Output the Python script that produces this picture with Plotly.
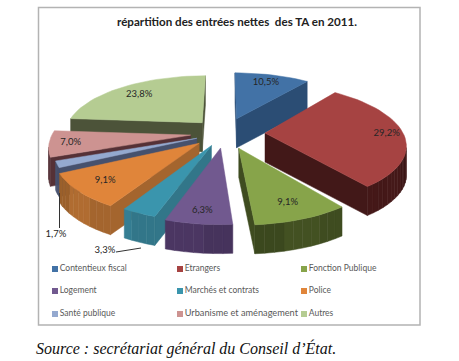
import math
import plotly.graph_objects as go

# ---- data ----
categories = ["Contentieux fiscal", "Etrangers", "Fonction Publique",
              "Logement", "Marchés et contrats", "Police",
              "Santé publique", "Urbanisme et aménagement", "Autres"]
values = [10.5, 29.2, 9.1, 6.3, 3.3, 9.1, 1.7, 7.0, 23.8]
title_text = "répartition des entrées nettes  des TA en 2011."
source_text = "Source : secrétariat général du Conseil d’État."

# ---- style ----
top_colors = ["#4272a6", "#a64342", "#87a44a", "#71598f", "#3a95ad",
              "#e0853a", "#94a9cf", "#cd9391", "#b5cc92"]
wall_colors = ["#2b4d74", "#421818", "#3f4c20", "#46335c", "#327689",
               "#a4652e", "#46516d", "#553136", "#4c5339"]
pulls = [0.27, 0.29, 0.27, 0.25, 0.23, 0.25, 0.22, 0.25, 0.25]
label_radius = [0.80, 0.88, 0.80, 0.85, None, 0.80, None, 0.85, 0.78]
legend_sizes = [8.5, 8.5, 8.5, 8.5, 8.5, 8.5, 8.5, 9.2, 8.5]
CX, CY, RX, RY, P, H = 225, 133, 138, 58, 0.168, 29


def project(u, v):
    s = 1 / (1 + P * v)
    return CX + RX * u * s, CY - RY * v * s


def slice_geometry(start, stop, pull):
    mid = math.radians((start + stop) / 2)
    au, av = pull * math.sin(mid), pull * math.cos(mid)
    n = max(4, int((stop - start) / 3))
    arc = []
    for i in range(n + 1):
        t = math.radians(start + (stop - start) * i / n)
        arc.append((au + math.sin(t), av + math.cos(t)))
    return (au, av), arc


def closed_xy(points):
    xs = [p[0] for p in points] + [points[0][0]]
    ys = [p[1] for p in points] + [points[0][1]]
    return xs, ys


def shade(hex_color, f):
    r, g, b = [int(hex_color[i:i + 2], 16) for i in (1, 3, 5)]
    return "rgb(%d,%d,%d)" % (min(255, r * f), min(255, g * f), min(255, b * f))


fig = go.Figure()
slices = []
acc = 0.0
for i, val in enumerate(values):
    start = acc * 3.6
    stop = (acc + val) * 3.6
    acc += val
    slices.append((i, start, stop))
order = sorted(slices, key=lambda s: -math.cos(math.radians((s[1] + s[2]) / 2)))


def add_poly(points, color):
    xs, ys = closed_xy(points)
    fig.add_trace(go.Scatter(x=xs, y=ys, mode="lines", fill="toself", fillcolor=color,
                             line=dict(color=color, width=0.5), hoverinfo="skip",
                             showlegend=False))


for i, start, stop in order:
    apex, arc = slice_geometry(start, stop, pulls[i])
    ring = [project(*apex)] + [project(*p) for p in arc]
    m = len(ring)
    for k in range(m):
        a, b = ring[k], ring[(k + 1) % m]
        if b[0] < a[0]:  # edge faces the viewer
            is_arc = 0 < k < m - 1
            f = 1.0 + (0.08 * math.sin((k // 4) * 1.9) if is_arc else 0)
            add_poly([a, b, (b[0], b[1] + H), (a[0], a[1] + H)], shade(wall_colors[i], f))
    add_poly(ring, top_colors[i])

# data labels
lab_x, lab_y, lab_t = [], [], []
for i, start, stop in slices:
    if label_radius[i] is None:
        continue
    mid = math.radians((start + stop) / 2)
    apex, _ = slice_geometry(start, stop, pulls[i])
    x, y = project(apex[0] + label_radius[i] * math.sin(mid), apex[1] + label_radius[i] * math.cos(mid))
    lab_x.append(x)
    lab_y.append(y)
    lab_t.append(("%.1f%%" % values[i]).replace(".", ","))
fig.add_trace(go.Scatter(x=lab_x, y=lab_y, text=lab_t, mode="text", hoverinfo="skip", showlegend=False,
                         textfont=dict(family="Lato", size=9.5, color="#262626")))

# outside labels with leader lines
for idx, tx, ty, xs, ys in [(4, 105, 251, [116, 141], [252, 248]), (6, 56, 235, [59.5, 59.5], [193, 228])]:
    fig.add_trace(go.Scatter(x=xs, y=ys, mode="lines", line=dict(color="#333333", width=1),
                             hoverinfo="skip", showlegend=False))
    fig.add_trace(go.Scatter(x=[tx], y=[ty], text=[("%.1f%%" % values[idx]).replace(".", ",")], mode="text",
                             hoverinfo="skip", showlegend=False,
                             textfont=dict(family="Lato", size=9.5, color="#262626")))

# legend in three columns
col_x = [52, 177, 301]
row_y = [269, 291, 314]
for i, name in enumerate(categories):
    fig.add_trace(go.Scatter(x=[col_x[i % 3] + 3], y=[row_y[i // 3]], text=[name], mode="markers+text",
                             textposition="middle right", name=name, hoverinfo="name", showlegend=False,
                             marker=dict(symbol="square", size=6, color=top_colors[i]),
                             textfont=dict(family="Lato", size=legend_sizes[i], color="#595959")))

fig.add_shape(type="rect", x0=38.5, y0=7.5, x1=420, y1=325, line=dict(color="#b3b3b3", width=1.5),
              layer="below")
fig.add_annotation(x=237, y=21, text="<b>%s</b>" % title_text, showarrow=False,
                   font=dict(family="Lato", size=11.6, color="#222222"))
fig.add_annotation(x=34, y=348, xanchor="left", text="<i>%s</i>" % source_text, showarrow=False,
                   font=dict(family="Liberation Serif", size=16, color="#111111"))

fig.update_layout(width=459, height=361, margin=dict(l=0, r=0, t=0, b=0), showlegend=False,
                  paper_bgcolor="white", plot_bgcolor="white",
                  xaxis=dict(range=[0, 459], visible=False, fixedrange=True),
                  yaxis=dict(range=[361, 0], visible=False, fixedrange=True))
fig.write_html("out.html", post_script="document.body.style.margin='0';",
               config={"displayModeBar": False})
